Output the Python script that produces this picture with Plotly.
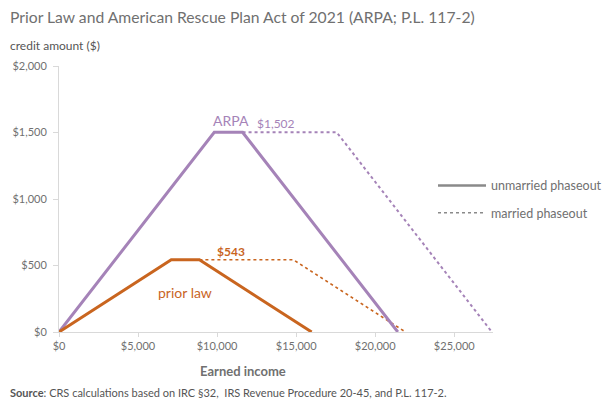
import plotly.graph_objects as go

# Data (2021 EITC for childless workers)
arpa_unmarried_x = [0, 9820, 11610, 21430]
arpa_unmarried_y = [0, 1502, 1502, 0]
arpa_married_x = [11610, 17560, 27380]
arpa_married_y = [1502, 1502, 0]
prior_unmarried_x = [0, 7100, 8880, 15980]
prior_unmarried_y = [0, 543, 543, 0]
prior_married_x = [8880, 14820, 21920]
prior_married_y = [543, 543, 0]

x_ticks = [0, 5000, 10000, 15000, 20000, 25000]
x_labels = ["$0", "$5,000", "$10,000", "$15,000", "$20,000", "$25,000"]
y_ticks = [0, 500, 1000, 1500, 2000]
y_labels = ["$0", "$500", "$1,000", "$1,500", "$2,000"]

PURPLE = "#A583B8"
ORANGE = "#C9651F"
GRAY = "#707070"
FONT = "Lato"

W, H = 604, 396  # page body has an 8px margin
L, T, PW, PH = 51, 58, 434, 266

def px(xpix):
    return (xpix - 8 - L) / PW

fig = go.Figure()
fig.add_trace(go.Scatter(x=arpa_married_x, y=arpa_married_y, mode="lines",
                         line=dict(color=PURPLE, width=2, dash="dot"), showlegend=False))
fig.add_trace(go.Scatter(x=prior_married_x, y=prior_married_y, mode="lines",
                         line=dict(color=ORANGE, width=1.6, dash="dot"), showlegend=False))
fig.add_trace(go.Scatter(x=arpa_unmarried_x, y=arpa_unmarried_y, mode="lines",
                         line=dict(color=PURPLE, width=3), showlegend=False))
fig.add_trace(go.Scatter(x=prior_unmarried_x, y=prior_unmarried_y, mode="lines",
                         line=dict(color=ORANGE, width=3), showlegend=False))

# legend entries
fig.add_trace(go.Scatter(x=[None], y=[None], mode="lines", name="unmarried phaseout",
                         line=dict(color="#8a8a8a", width=2.5), legend="legend"))
fig.add_trace(go.Scatter(x=[None], y=[None], mode="lines", name="married phaseout",
                         line=dict(color="#8a8a8a", width=1.5, dash="dot"), legend="legend2"))

anns = [
    dict(x=10900, y=1590, text="ARPA", font=dict(color=PURPLE, size=14)),
    dict(x=13700, y=1568, text="$1,502", font=dict(color=PURPLE, size=12)),
    dict(x=10850, y=605, text="<b>$543</b>", font=dict(color=ORANGE, size=12)),
    dict(x=7950, y=298, text="prior law", font=dict(color=ORANGE, size=14)),
]
for a in anns:
    fig.add_annotation(xref="x", yref="y", showarrow=False, font_family=FONT, **a)

fig.add_annotation(xref="paper", yref="paper", x=px(8), y=1.0, yshift=49, xanchor="left", yanchor="middle",
                   text="Prior Law and American Rescue Plan Act of 2021 (ARPA; P.L. 117-2)",
                   showarrow=False, font=dict(family=FONT, size=15.7, color=GRAY))
fig.add_annotation(xref="paper", yref="paper", x=px(8), y=1.0, yshift=21, xanchor="left", yanchor="middle",
                   text="credit amount ($)", showarrow=False,
                   font=dict(family=FONT, size=12, color="#555555"))
fig.add_annotation(xref="paper", yref="paper", x=px(243), y=0, yshift=-39, xanchor="center", yanchor="middle",
                   text="<b>Earned income</b>", showarrow=False,
                   font=dict(family=FONT, size=13, color=GRAY))
fig.add_annotation(xref="paper", yref="paper", x=px(8), y=0, yshift=-60, xanchor="left", yanchor="middle",
                   text="<b>Source</b>: CRS calculations based on IRC §32,  IRS Revenue Procedure 20-45, and P.L. 117-2.",
                   showarrow=False, font=dict(family=FONT, size=11, color="#555555"))

fig.update_layout(
    width=W, height=H,
    margin=dict(l=L, r=W - L - PW, t=T, b=H - T - PH, autoexpand=False),
    paper_bgcolor="white", plot_bgcolor="white",
    font=dict(family=FONT, color=GRAY),
    xaxis=dict(range=[0, 27450], tickvals=x_ticks, ticktext=x_labels, showgrid=False,
               zeroline=False, showline=True, linecolor="#d9d9d9", linewidth=1,
               ticks="outside", tickcolor="#d9d9d9", ticklen=4,
               tickfont=dict(size=11, color=GRAY)),
    yaxis=dict(range=[0, 2000], tickvals=y_ticks, ticktext=y_labels, showgrid=False,
               zeroline=False, showline=True, linecolor="#d9d9d9", linewidth=1,
               ticks="outside", tickcolor="#d9d9d9", ticklen=5, ticklabelstandoff=4,
               tickfont=dict(size=11, color=GRAY)),
    legend=dict(x=px(433), y=0.549, xanchor="left", yanchor="middle", bgcolor="rgba(0,0,0,0)",
                font=dict(size=12.5, color=GRAY), itemwidth=48),
    legend2=dict(x=px(433), y=0.447, xanchor="left", yanchor="middle", bgcolor="rgba(0,0,0,0)",
                 font=dict(size=12.5, color=GRAY), itemwidth=48),
)

fig.write_html("out.html")
